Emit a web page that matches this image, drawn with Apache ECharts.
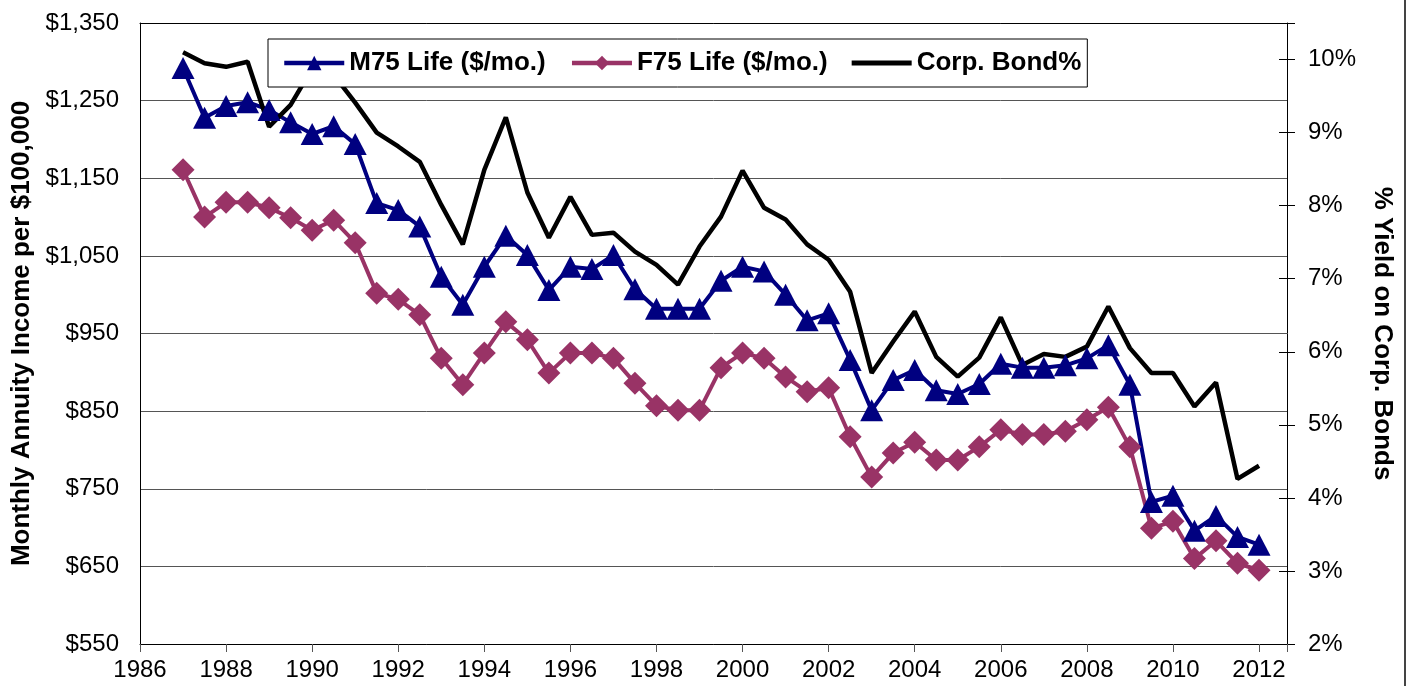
<!DOCTYPE html>
<html>
<head>
<meta charset="utf-8">
<title>Annuity income vs corporate bond yield</title>
<script src="https://cdn.jsdelivr.net/npm/echarts@6/dist/echarts.min.js"></script>
<style>
html, body { margin: 0; padding: 0; background: #fff; }
#main { width: 1408px; height: 686px; }
</style>
</head>
<body>
<div id="main"></div>
<script type="text/javascript">
// half-year observations, 1987 - 2012
var years = [1987, 1987.5, 1988, 1988.5, 1989, 1989.5, 1990, 1990.5, 1991, 1991.5,
    1992, 1992.5, 1993, 1993.5, 1994, 1994.5, 1995, 1995.5, 1996, 1996.5,
    1997, 1997.5, 1998, 1998.5, 1999, 1999.5, 2000, 2000.5, 2001, 2001.5,
    2002, 2002.5, 2003, 2003.5, 2004, 2004.5, 2005, 2005.5, 2006, 2006.5,
    2007, 2007.5, 2008, 2008.5, 2009, 2009.5, 2010, 2010.5, 2011, 2011.5,
    2012];

// M75 Life ($/mo.)
var m75 = [1292, 1228, 1243, 1248, 1238, 1222, 1207, 1217, 1194, 1118,
    1109, 1088, 1023, 987, 1036, 1076, 1051, 1006, 1036, 1033,
    1051, 1007, 982, 982, 982, 1018, 1036, 1030, 1000, 967,
    976, 916, 851, 890, 903, 877, 872, 885, 911, 906,
    906, 909, 918, 935, 884, 733, 741, 696, 715, 688,
    678];

// F75 Life ($/mo.)
var f75 = [1161, 1100, 1119, 1119, 1112, 1099, 1083, 1096, 1067, 1002,
    994, 974, 918, 884, 925, 965, 942, 899, 925, 925,
    918, 886, 857, 851, 851, 906, 925, 918, 894, 875,
    880, 817, 765, 796, 810, 787, 787, 804, 826, 820,
    820, 824, 839, 855, 804, 699, 708, 660, 683, 654,
    645];

// Corp. Bond% (right axis)
var bond = [10.10, 9.95, 9.90, 9.97, 9.08, 9.38, 9.88, 9.79, 9.41, 9.00,
    8.81, 8.60, 8.01, 7.47, 8.49, 9.21, 8.18, 7.56, 8.12, 7.60,
    7.63, 7.37, 7.19, 6.92, 7.44, 7.85, 8.48, 7.97, 7.81, 7.47,
    7.26, 6.82, 5.71, 6.14, 6.55, 5.93, 5.66, 5.92, 6.47, 5.82,
    5.97, 5.93, 6.07, 6.62, 6.05, 5.71, 5.71, 5.25, 5.58, 4.26,
    4.44];

var names = ['M75 Life ($/mo.)', 'F75 Life ($/mo.)', 'Corp. Bond%'];
var colors = ['#000080', '#993366', '#000000'];
var FONT = "'Liberation Sans', Arial, sans-serif";

function pairs(vals) {
    var out = [];
    for (var i = 0; i < vals.length; i++) out.push([years[i], vals[i]]);
    return out;
}

var myChart = echarts.init(document.getElementById('main'));

var option = {
    animation: false,
    backgroundColor: '#fff',
    textStyle: { fontFamily: FONT },
    grid: { left: 140, right: 121, top: 23, bottom: 42 },
    legend: {
        left: 268,
        top: 39,
        padding: [11, 6, 11, 14],
        itemGap: 24,
        itemWidth: 60,
        itemHeight: 18,
        borderColor: '#000',
        borderWidth: 1,
        backgroundColor: '#fff',
        lineStyle: { width: 4.5 },
        textStyle: { fontFamily: FONT, fontSize: 26, fontWeight: 'bold', color: '#000' },
        data: [
            names[0],
            names[1],
            { name: names[2], icon: 'path://M0,0 L60,0 L60,5 L0,5 Z' }
        ]
    },
    xAxis: [
        {
            type: 'value',
            min: 1986,
            max: 2012.65,
            interval: 2,
            axisLine: { show: true, lineStyle: { color: '#000', width: 1 } },
            axisTick: { show: true, length: 8, lineStyle: { color: '#555' } },
            axisLabel: {
                margin: 14,
                fontSize: 24,
                color: '#000',
                fontFamily: FONT,
                formatter: function (v) { return (v % 2 === 0) ? String(v) : ''; }
            },
            splitLine: { show: false }
        },
        {
            // top frame line
            type: 'value',
            position: 'top',
            min: 1986,
            max: 2012.65,
            axisLine: { show: true, onZero: false, lineStyle: { color: '#000', width: 1 } },
            axisTick: { show: false },
            axisLabel: { show: false },
            splitLine: { show: false }
        }
    ],
    yAxis: [
        {
            type: 'value',
            min: 550,
            max: 1350,
            interval: 100,
            position: 'left',
            name: 'Monthly Annuity Income per $100,000',
            nameLocation: 'middle',
            nameRotate: 90,
            nameGap: 105,
            nameTextStyle: { fontFamily: FONT, fontSize: 26, fontWeight: 'bold', color: '#000' },
            axisLine: { show: true, lineStyle: { color: '#000', width: 1 } },
            axisTick: { show: false },
            axisLabel: {
                margin: 21,
                fontSize: 24,
                color: '#000',
                fontFamily: FONT,
                formatter: function (v) {
                    return '$' + v.toString().replace(/\B(?=(\d{3})+(?!\d))/g, ',');
                }
            },
            splitLine: { show: true, lineStyle: { color: '#555', width: 1 } }
        },
        {
            type: 'value',
            min: 2,
            max: 10.5,
            interval: 1,
            position: 'right',
            name: '% Yield on Corp. Bonds',
            nameLocation: 'middle',
            nameRotate: -90,
            nameGap: 82,
            nameTextStyle: { fontFamily: FONT, fontSize: 26, fontWeight: 'bold', color: '#000' },
            axisLine: { show: true, lineStyle: { color: '#000', width: 1 } },
            axisTick: { show: true, length: 8, lineStyle: { color: '#000' } },
            axisLabel: {
                margin: 21,
                fontSize: 24,
                color: '#000',
                fontFamily: FONT,
                formatter: function (v) { return Number.isInteger(v) ? v + '%' : ''; }
            },
            splitLine: { show: false }
        },
        {
            // inner half of the cross ticks on the right axis
            type: 'value',
            min: 2,
            max: 10.5,
            interval: 1,
            position: 'right',
            axisLine: { show: false },
            axisTick: { show: true, inside: true, length: 8, lineStyle: { color: '#000' } },
            axisLabel: { show: false },
            splitLine: { show: false }
        }
    ],
    graphic: [
        {
            type: 'line',
            shape: { x1: 1405, y1: 0, x2: 1405, y2: 686 },
            style: { stroke: '#444', lineWidth: 2 }
        }
    ],
    series: [
        {
            name: names[0],
            type: 'line',
            yAxisIndex: 0,
            data: pairs(m75),
            symbol: 'triangle',
            symbolSize: [23, 22],
            color: colors[0],
            itemStyle: { color: colors[0] },
            lineStyle: { color: colors[0], width: 4 }
        },
        {
            name: names[1],
            type: 'line',
            yAxisIndex: 0,
            data: pairs(f75),
            symbol: 'diamond',
            symbolSize: [23, 23],
            color: colors[1],
            itemStyle: { color: colors[1] },
            lineStyle: { color: colors[1], width: 4 }
        },
        {
            name: names[2],
            type: 'line',
            yAxisIndex: 1,
            data: pairs(bond),
            symbol: 'none',
            showSymbol: false,
            color: colors[2],
            itemStyle: { color: colors[2] },
            lineStyle: { color: colors[2], width: 4.5 }
        }
    ]
};

myChart.setOption(option);
</script>
</body>
</html>
